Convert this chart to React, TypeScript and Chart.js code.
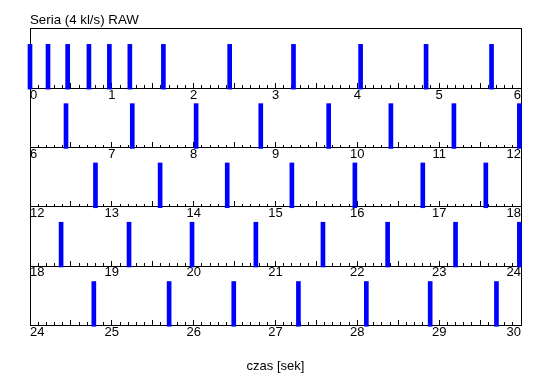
import React, { useEffect, useRef } from 'react';
import { Chart, registerables } from 'chart.js';

Chart.register(...registerables);

const TITLE = 'Seria (4 kl/s) RAW';
const X_TITLE = 'czas [sek]';
const PANEL_STARTS = [0, 6, 12, 18, 24];
const PANEL_LENGTH = 6;
const SPIKE_TIMES = [
  0, 0.22, 0.46, 0.72, 0.97, 1.22, 1.63, 2.44, 3.22, 4.04, 4.84, 5.64,
  6.44, 7.25, 8.03, 8.82, 9.65, 10.41, 11.18, 11.98,
  12.8, 13.59, 14.41, 15.2, 15.97, 16.8, 17.57,
  18.38, 19.21, 19.98, 20.76, 21.58, 22.37, 23.2, 23.98,
  24.78, 25.7, 26.49, 27.28, 28.11, 28.89, 29.7,
];
const SPIKE_TOP = 0.74;
const SPIKE_BOTTOM = -0.015;

const FONT = "'Liberation Sans', Arial, sans-serif";
const BLACK = '#000000';

export default function App() {
  const ref = useRef<HTMLCanvasElement>(null);

  useEffect(() => {
    const n = PANEL_STARTS.length;
    const hidden = {
      ticks: { display: false },
      grid: { display: false, drawTicks: false, offset: false },
      offset: false,
    };
    const scales: any = {
      y: {
        type: 'linear', axis: 'y', position: 'left', min: 0, max: n, ...hidden,
        border: { display: true, color: BLACK, width: 1 },
      },
      yr: {
        type: 'linear', axis: 'y', position: 'right', min: 0, max: n, ...hidden,
        border: { display: true, color: BLACK, width: 1 },
      },
      xtop: {
        type: 'linear', axis: 'x', position: { y: n }, min: 0, max: 1, ...hidden,
        border: { display: true, color: BLACK, width: 1 },
      },
      xt: {
        type: 'linear', axis: 'x', position: 'bottom', min: 0, max: 1, ...hidden,
        border: { display: false },
        title: {
          display: true, text: X_TITLE, color: BLACK,
          font: { family: FONT, size: 13 },
          padding: { top: 33, bottom: 15 },
        },
      },
    };

    const datasets = PANEL_STARTS.map((start, k) => {
      const base = n - 1 - k;
      scales['m' + k] = {
        type: 'linear', axis: 'x', position: { y: base }, offset: false,
        min: start, max: start + PANEL_LENGTH,
        ticks: { display: false, stepSize: 0.1, autoSkip: false },
        grid: {
          display: true, drawOnChartArea: false, drawTicks: true, offset: false,
          tickLength: -3, tickColor: BLACK, tickWidth: 1,
        },
        border: { display: false },
      };
      scales['x' + k] = {
        type: 'linear', axis: 'x', position: { y: base }, offset: false,
        min: start, max: start + PANEL_LENGTH,
        ticks: {
          stepSize: 0.5, autoSkip: false, maxRotation: 0, minRotation: 0,
          align: 'inner', padding: 5, color: BLACK,
          font: { family: FONT, size: 13 },
          callback: (v: any) => (Math.abs(v - Math.round(v)) < 1e-6 ? String(Math.round(v)) : ''),
        },
        grid: {
          display: true, drawOnChartArea: false, drawTicks: true, offset: false,
          tickLength: -6, tickColor: BLACK, tickWidth: 1,
        },
        border: { display: true, color: BLACK, width: 1 },
      };
      return {
        type: 'bar',
        xAxisID: 'x' + k,
        yAxisID: 'y',
        grouped: false,
        data: SPIKE_TIMES.filter((t) => t >= start && t < start + PANEL_LENGTH).map((t) => ({
          x: t,
          y: [base + SPIKE_BOTTOM, base + SPIKE_TOP],
        })),
        backgroundColor: '#0000ff',
        borderWidth: 0,
        barThickness: 4,
        clip: false,
      };
    });

    const chart = new Chart(ref.current as HTMLCanvasElement, {
      type: 'bar',
      data: { datasets: datasets as any },
      options: {
        animation: false,
        responsive: false,
        events: [],
        layout: { padding: { left: 30, right: 29, top: 0, bottom: 0 } },
        plugins: {
          legend: { display: false },
          tooltip: { enabled: false },
          title: {
            display: true, text: TITLE, align: 'start', color: BLACK,
            font: { family: FONT, size: 13.3, weight: 'normal' },
            padding: { top: 12, bottom: 1 },
          },
        },
        scales,
      } as any,
    });
    return () => chart.destroy();
  }, []);

  return (
    <div style={{ position: 'absolute', left: 0, top: 0, width: 550, height: 389, background: '#fff' }}>
      <canvas ref={ref} width={550} height={389} style={{ width: 550, height: 389, display: 'block' }} />
    </div>
  );
}
